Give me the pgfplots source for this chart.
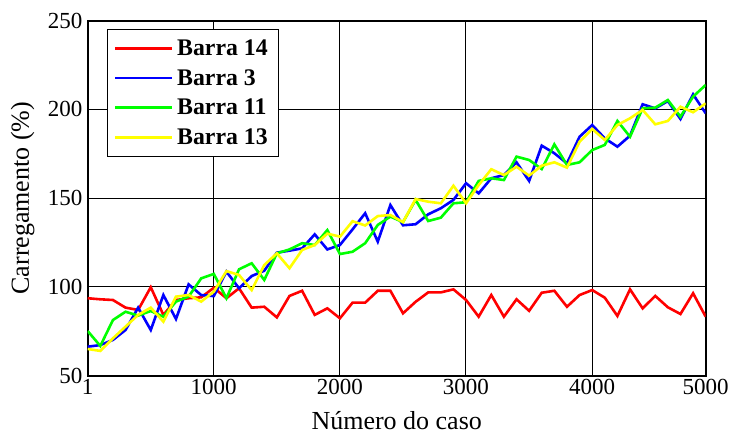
\documentclass[border=0pt]{standalone}
\usepackage{fontspec}
\setmainfont{Liberation Serif}
\usepackage{pgfplots}
\pgfplotsset{compat=1.18}
\definecolor{mred}{RGB}{255,0,0}
\definecolor{mblue}{RGB}{0,0,255}
\definecolor{mgreen}{RGB}{0,255,0}
\definecolor{myellow}{RGB}{255,255,0}
\begin{document}
\begin{tikzpicture}
\useasboundingbox (-87.7bp,-58.4bp) rectangle (644.3bp,375.6bp);
\begin{axis}[
  at={(0,0)}, anchor=south west,
  scale only axis, width=618bp, height=354.9bp,
  xmin=1, xmax=4901, ymin=50, ymax=250,
  xtick={1,1000,2000,3000,4000,4901},
  xticklabels={1,1000,2000,3000,4000,5000},
  ytick={50,100,150,200,250},
  grid=major,
  major grid style={black, line width=0.9bp},
  axis line style={black, line width=1.8bp},
  tick style={black, line width=0.9bp},
  major tick length=5bp,
  tick label style={font=\fontsize{23bp}{27bp}\selectfont},
  yticklabel style={inner xsep=5bp},
  /pgf/number format/assume math mode=true,
  xlabel={Número do caso}, ylabel={Carregamento (\%)},
  every axis x label/.style={at={(axis description cs:0.5,-0.1505)},anchor=base,font=\fontsize{26bp}{30bp}\selectfont},
  every axis y label/.style={at={(axis description cs:-0.1052,0.5)},anchor=center,rotate=90,font=\fontsize{26bp}{30bp}\selectfont},
  legend style={at={(axis description cs:0.0307,0.9758)}, anchor=north west, draw=black, line width=0.9bp, fill=white, font=\bfseries\fontsize{23.8bp}{27bp}\selectfont, inner xsep=7bp, inner ysep=4bp, nodes={inner xsep=3.5bp, inner ysep=6.2bp}},
  legend cell align=left,
  legend image code/.code={\path (0bp,0bp) -- (57bp,0bp);\draw[#1, line width=2.4bp] (0bp,0bp) -- (55bp,0bp);},
  every axis plot/.append style={line width=2.6bp, mark=none},
]
\addplot[mred] coordinates {
(1,93.6) (101,93.0) (201,92.6) (301,88.3) (401,87.0) (501,99.8) (601,84.2) (701,92.6) (801,93.6) (901,94.1)
(1001,99.5) (1101,93.6) (1201,99.2) (1301,88.3) (1401,88.8) (1501,82.8) (1601,94.9) (1701,97.8) (1801,84.2) (1901,87.9)
(2001,82.3) (2101,91.1) (2201,91.1) (2301,97.8) (2401,97.8) (2501,85.1) (2601,91.6) (2701,96.9) (2801,96.9) (2901,98.6)
(3001,92.6) (3101,83.2) (3201,95.4) (3301,83.2) (3401,93.0) (3501,86.5) (3601,96.7) (3701,97.8) (3801,88.8) (3901,95.4)
(4001,98.2) (4101,93.9) (4201,83.6) (4301,98.6) (4401,87.9) (4501,94.9) (4601,88.5) (4701,84.7) (4801,96.4) (4901,83.2)
};
\addlegendentry{Barra 14}
\addplot[mblue] coordinates {
(1,66.3) (101,67.2) (201,70.1) (301,75.7) (401,88.3) (501,75.7) (601,95.4) (701,81.9) (801,101.4) (901,95.4)
(1001,94.8) (1101,108.6) (1201,99.2) (1301,106.1) (1401,109.1) (1501,119.3) (1601,120.4) (1701,121.7) (1801,129.6) (1901,121.1)
(2001,123.6) (2101,132.4) (2201,141.5) (2301,125.5) (2401,146.1) (2501,134.7) (2601,135.3) (2701,140.9) (2801,144.3) (2901,149.0)
(3001,158.4) (3101,152.7) (3201,161.2) (3301,163.0) (3401,170.2) (3501,159.7) (3601,179.6) (3701,175.3) (3801,169.6) (3901,184.6)
(4001,191.2) (4101,183.7) (4201,179.0) (4301,185.2) (4401,202.9) (4501,200.6) (4601,204.7) (4701,194.6) (4801,208.5) (4901,197.8)
};
\addlegendentry{Barra 3}
\addplot[mgreen] coordinates {
(1,75.1) (101,66.7) (201,81.3) (301,86.0) (401,83.8) (501,86.4) (601,83.2) (701,91.7) (801,94.5) (901,104.8)
(1001,107.3) (1101,93.6) (1201,109.9) (1301,113.3) (1401,103.9) (1501,118.9) (1601,121.1) (1701,124.6) (1801,123.6) (1901,132.0)
(2001,118.5) (2101,119.8) (2201,124.6) (2301,134.9) (2401,139.6) (2501,136.5) (2601,149.0) (2701,137.1) (2801,139.0) (2901,147.1)
(3001,147.7) (3101,159.7) (3201,161.2) (3301,160.2) (3401,173.4) (3501,171.5) (3601,166.4) (3701,180.3) (3801,168.7) (3901,170.2)
(4001,177.1) (4101,180.0) (4201,193.5) (4301,184.6) (4401,200.6) (4501,201.0) (4601,205.3) (4701,195.9) (4801,207.2) (4901,213.8)
};
\addlegendentry{Barra 11}
\addplot[myellow] coordinates {
(1,65.0) (101,63.9) (201,71.0) (301,77.6) (401,84.2) (501,88.3) (601,80.4) (701,94.5) (801,95.4) (901,91.7)
(1001,97.3) (1101,108.9) (1201,106.7) (1301,98.2) (1401,112.3) (1501,118.9) (1601,110.5) (1701,120.8) (1801,123.6) (1901,130.0)
(2001,128.3) (2101,137.0) (2201,134.6) (2301,139.9) (2401,140.5) (2501,136.5) (2601,149.5) (2701,148.0) (2801,147.1) (2901,157.0)
(3001,147.1) (3101,157.4) (3201,166.3) (3301,163.0) (3401,167.7) (3501,162.7) (3601,168.3) (3701,170.2) (3801,167.2) (3901,181.8)
(4001,189.0) (4101,182.8) (4201,191.2) (4301,195.0) (4401,199.7) (4501,191.6) (4601,193.5) (4701,201.5) (4801,198.4) (4901,203.4)
};
\addlegendentry{Barra 13}
\end{axis}
\end{tikzpicture}
\end{document}
